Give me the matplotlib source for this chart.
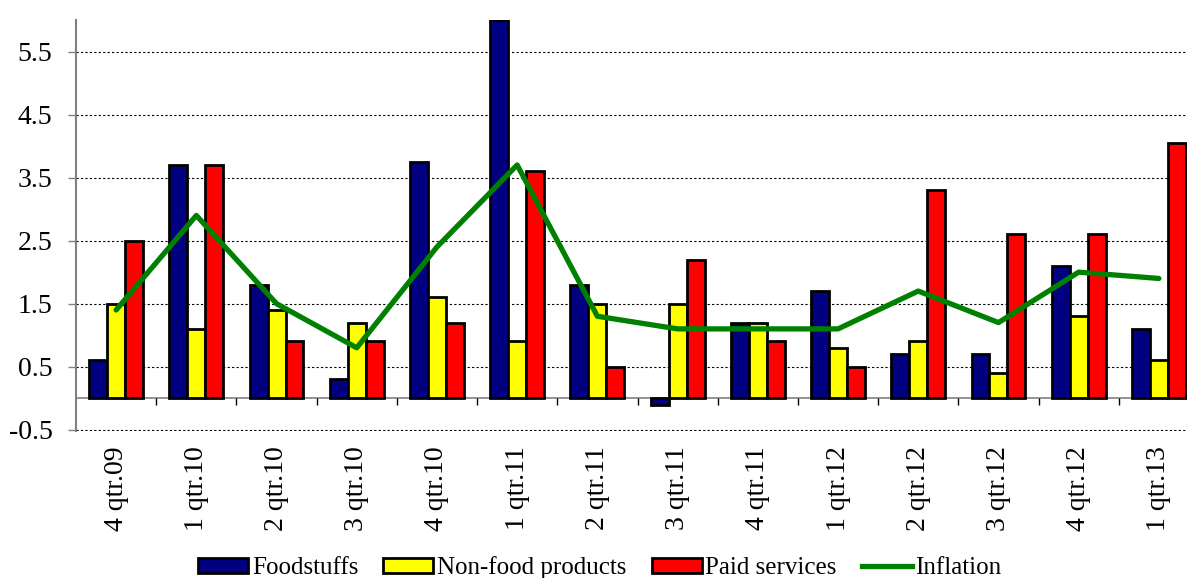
import numpy as np
import matplotlib
matplotlib.use("Agg")
import matplotlib.pyplot as plt
from matplotlib.patches import Patch
from matplotlib.lines import Line2D

plt.rcParams['font.family'] = ['Liberation Serif', 'DejaVu Serif']

quarters = ["4 qtr.09", "1 qtr.10", "2 qtr.10", "3 qtr.10", "4 qtr.10", "1 qtr.11", "2 qtr.11",
            "3 qtr.11", "4 qtr.11", "1 qtr.12", "2 qtr.12", "3 qtr.12", "4 qtr.12", "1 qtr.13"]
foodstuffs = [0.6, 3.7, 1.8, 0.3, 3.75, 6.0, 1.8, -0.1, 1.2, 1.7, 0.7, 0.7, 2.1, 1.1]
nonfood = [1.5, 1.1, 1.4, 1.2, 1.6, 0.9, 1.5, 1.5, 1.2, 0.8, 0.9, 0.4, 1.3, 0.6]
services = [2.5, 3.7, 0.9, 0.9, 1.2, 3.6, 0.5, 2.2, 0.9, 0.5, 3.3, 2.6, 2.6, 4.05]
inflation = [1.4, 2.9, 1.5, 0.8, 2.4, 3.7, 1.3, 1.1, 1.1, 1.1, 1.7, 1.2, 2.0, 1.9]

x = np.arange(len(quarters))
w = 0.224

fig = plt.figure(figsize=(11.87, 5.78), dpi=100)
ax = fig.add_axes([76 / 1187, 147 / 578, 1123 / 1187, 411 / 578])

ax.bar(x - w, foodstuffs, w, color='#000080', edgecolor='black', linewidth=2, zorder=3)
ax.bar(x, nonfood, w, color='#FFFF00', edgecolor='black', linewidth=2, zorder=3)
ax.bar(x + w, services, w, color='#FF0000', edgecolor='black', linewidth=2, zorder=3)
ax.plot(x, inflation, color='#008000', linewidth=3.8, zorder=4, solid_capstyle='round')

ax.set_xlim(-0.5, len(quarters) - 0.5)
ax.set_ylim(-0.52, 6.0)
ax.set_yticks(np.arange(-0.5, 6.0, 1.0))
ax.set_yticklabels(["-0.5", "0.5", "1.5", "2.5", "3.5", "4.5", "5.5"])
ax.yaxis.grid(True, color='black', linestyle=(0, (2, 2)), linewidth=0.8, zorder=0)

ax.set_xticks(x)
ax.set_xticklabels(quarters, rotation=90)
ax.tick_params(axis='x', length=0, pad=11, labelsize=20)
ax.tick_params(axis='y', length=6, width=1, color='gray', pad=11, labelsize=20)

# zero line with category separators
ax.axhline(0, color='gray', linewidth=1.2, zorder=2)
ax.vlines(np.arange(0.5, len(quarters) - 0.5, 1), -0.11, 0, color='black', linewidth=1, zorder=2)

for s in ['top', 'right', 'bottom']:
    ax.spines[s].set_visible(False)
ax.spines['left'].set_color('gray')
ax.spines['left'].set_linewidth(1.5)

handles = [Patch(facecolor='#000080', edgecolor='black', linewidth=2),
           Patch(facecolor='#FFFF00', edgecolor='black', linewidth=2),
           Patch(facecolor='#FF0000', edgecolor='black', linewidth=2),
           Line2D([], [], color='#008000', linewidth=3.8)]
fig.legend(handles, ["Foodstuffs", "Non-food products", "Paid services", "Inflation"],
           loc='center', bbox_to_anchor=(600 / 1187, 1 - 568 / 578), ncol=4, frameon=False,
           fontsize=18, handlelength=2.0, handleheight=0.5, handletextpad=0.15,
           columnspacing=1.0)

fig.savefig("out.png", dpi=100)
